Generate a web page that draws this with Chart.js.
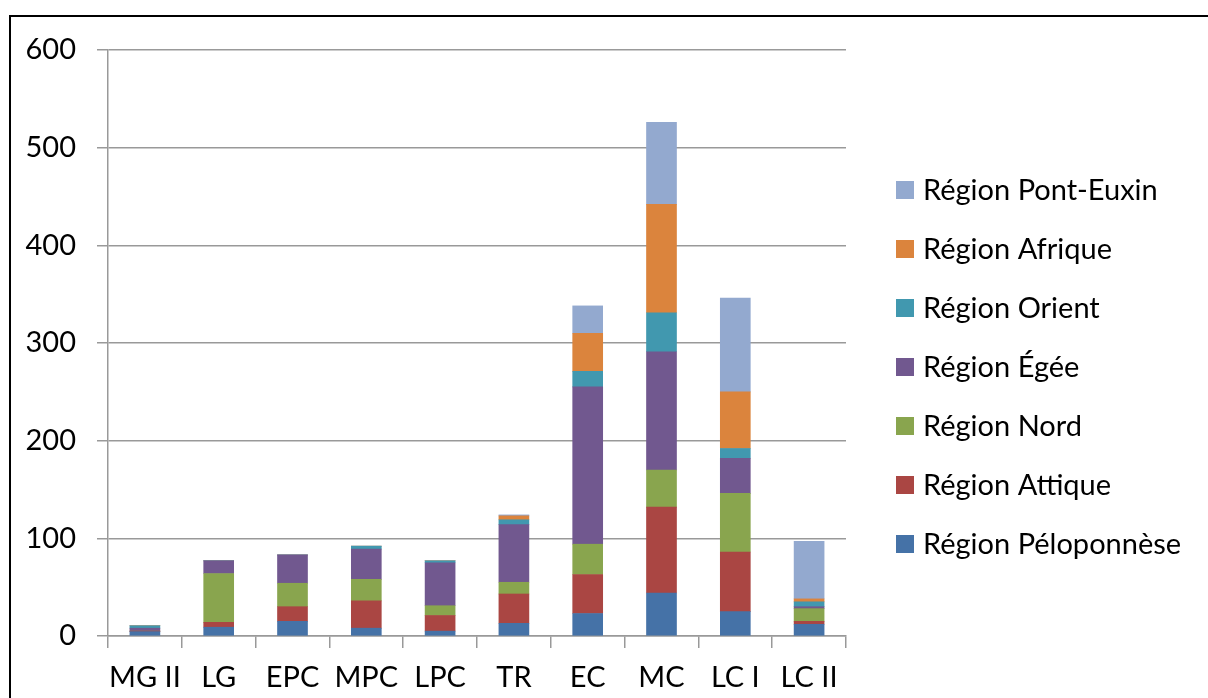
<!DOCTYPE html>
<html>
<head>
<meta charset="utf-8">
<script src="https://cdn.jsdelivr.net/npm/chart.js@4"></script>
<style>
    body { margin: 0; background: #fff; overflow: hidden; }
    #frame { position: absolute; left: 9px; top: 15px; width: 1260px; height: 760px; border: 2px solid #000; }
    #wrap { position: absolute; left: 0; top: 0; width: 1208px; height: 698px; }
</style>
</head>
<body>
<div id="frame"></div>
<div id="wrap"><canvas id="chart"></canvas></div>
<script>
const categories = ['MG II', 'LG', 'EPC', 'MPC', 'LPC', 'TR', 'EC', 'MC', 'LC I', 'LC II'];

// one array per region
const peloponnese = [4.5, 9, 15, 8, 5, 13, 23, 44, 25, 12];
const attique     = [0.5, 5, 15, 28, 16, 30, 40, 88, 61, 3];
const nord        = [0, 50, 24, 22, 10, 12, 31, 38, 60, 13];
const egee        = [3, 13, 29, 31, 44, 59, 161, 121, 36, 2];
const orient      = [2.5, 0, 0, 3, 2, 5, 16, 40, 10, 5];
const afrique     = [0, 0, 0, 0, 0, 4, 39, 111, 58, 3];
const pontEuxin   = [0, 0, 0, 0, 0, 1, 28, 84, 96, 59];

const yTicks = [0, 100, 200, 300, 400, 500, 600];

const series = [
    { label: 'Région Péloponnèse', data: peloponnese, color: '#4572A7' },
    { label: 'Région Attique', data: attique, color: '#AA4643' },
    { label: 'Région Nord', data: nord, color: '#89A54E' },
    { label: 'Région Égée', data: egee, color: '#71588F' },
    { label: 'Région Orient', data: orient, color: '#4198AF' },
    { label: 'Région Afrique', data: afrique, color: '#DB843D' },
    { label: 'Région Pont-Euxin', data: pontEuxin, color: '#93A9CF' }
];

// legend drawn beside the plot, top item = last series (like Excel)
const sideLegend = {
    id: 'sideLegend',
    afterDraw(chart) {
        const ctx = chart.ctx;
        const sets = chart.data.datasets;
        ctx.save();
        ctx.font = '29px Lato';
        ctx.textBaseline = 'middle';
        for (let i = 0; i < sets.length; i++) {
            const ds = sets[sets.length - 1 - i];
            const y = 190 + i * 59;
            ctx.fillStyle = ds.backgroundColor;
            ctx.fillRect(896, y - 9, 18, 18);
            ctx.fillStyle = '#000';
            ctx.fillText(ds.label, 923, y + 1);
        }
        ctx.restore();
    }
};

new Chart(document.getElementById('chart'), {
    type: 'bar',
    data: {
        labels: categories,
        datasets: series.map(s => ({
            label: s.label,
            data: s.data,
            backgroundColor: s.color,
            borderWidth: 0,
            barThickness: 30
        }))
    },
    options: {
        responsive: true,
        maintainAspectRatio: false,
        animation: false,
        layout: { padding: { left: 4, right: 362, top: 50, bottom: 0 } },
        plugins: { legend: { display: false }, tooltip: { enabled: false } },
        scales: {
            x: {
                stacked: true,
                afterFit: axis => { axis.height = 62; },
                grid: { drawOnChartArea: false, drawTicks: true, tickLength: 12, color: '#999', lineWidth: 1.5 },
                border: { color: '#999', width: 1.5 },
                ticks: { color: '#000', font: { family: 'Lato', size: 29 }, padding: 12, maxRotation: 0, minRotation: 0, autoSkip: false }
            },
            y: {
                stacked: true,
                min: 0,
                max: 600,
                afterBuildTicks: axis => { axis.ticks = yTicks.map(v => ({ value: v })); },
                afterFit: axis => { axis.width = 104; },
                grid: { color: '#999', lineWidth: 1.5, tickLength: 11 },
                border: { color: '#999', width: 1.5 },
                ticks: { color: '#000', font: { family: 'Lato', size: 29 }, padding: 21 }
            }
        }
    },
    plugins: [sideLegend]
});
</script>
</body>
</html>
